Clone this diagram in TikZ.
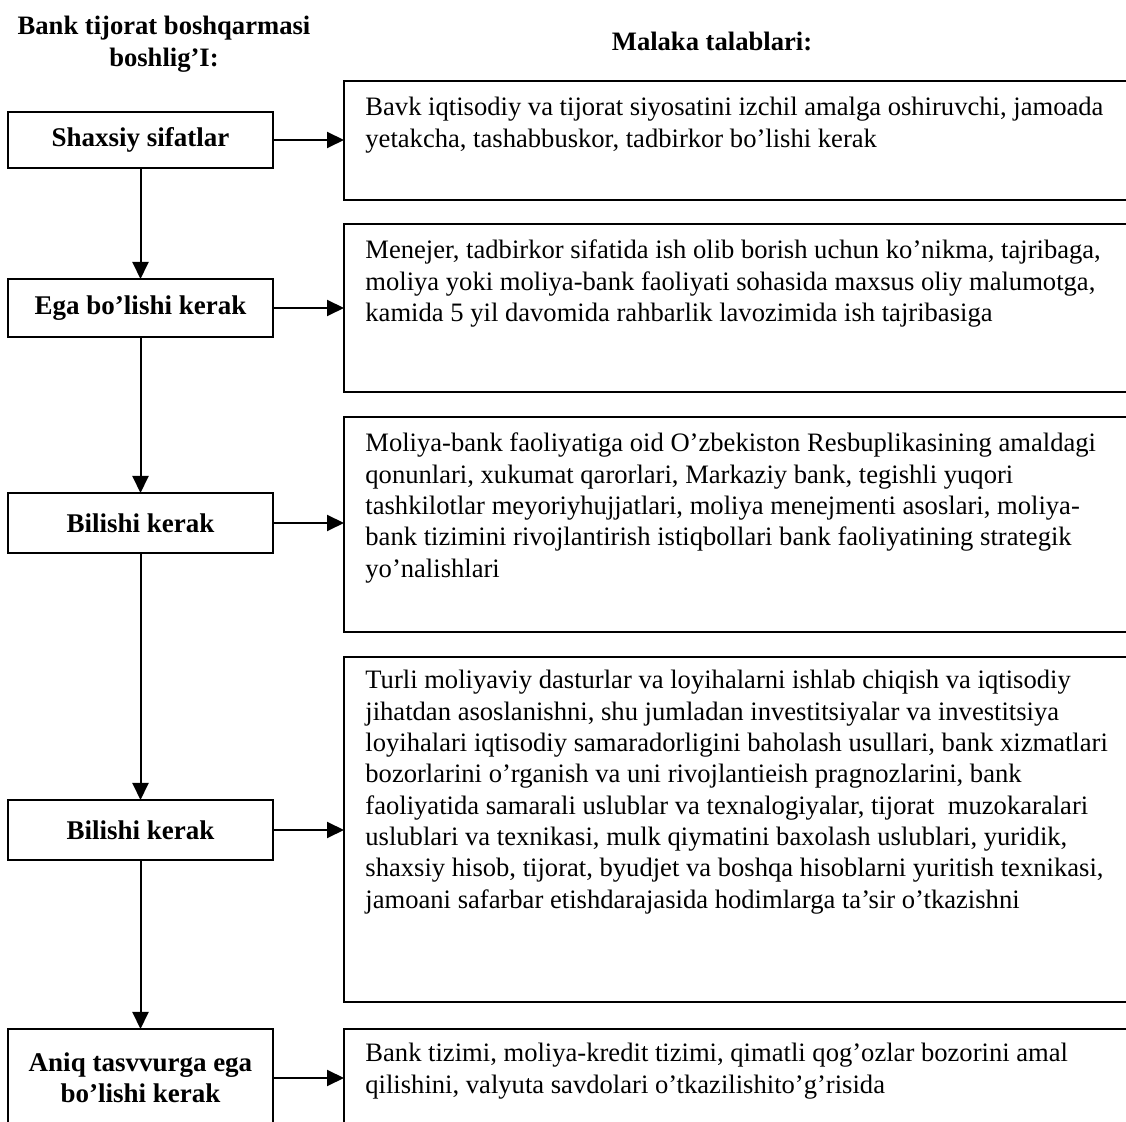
\documentclass[tikz,border=0pt]{standalone}
\usepackage{fontspec}
\setmainfont{Liberation Serif}
\usetikzlibrary{arrows.meta}
\begin{document}
\begin{tikzpicture}[x=0.5pt,y=-0.5pt,
  lbox/.style={draw,line width=1pt,minimum width=132.5pt,inner sep=0pt,outer sep=0pt,
    font=\bfseries\fontsize{13.5}{15.65}\selectfont,align=center},
  rbox/.style={draw,line width=0.75pt,minimum width=393pt,inner sep=0pt,outer sep=0pt},
  rtext/.style={anchor=base west,inner sep=0pt,font=\fontsize{13.3}{15.65}\selectfont},
  arr/.style={line width=1pt,-{Triangle[length=8.5pt,width=8pt]}},
  head/.style={anchor=base,inner sep=0pt,font=\bfseries\fontsize{13.3}{16}\selectfont}]
\useasboundingbox (0,0) rectangle (1126,1122);
\clip (0,0) rectangle (1126,1122);
\fill[white] (0,0) rectangle (1126,1122);

% headers
\node[head] (h1) at (164,35) {\begin{tabular}[t]{@{}c@{}}Bank tijorat boshqarmasi\\ boshlig’I:\end{tabular}};
\node[head] (h2) at (712,51) {Malaka talablari:};

% left boxes
\node[lbox,minimum height=28pt] (l1) at (140.5,140) {Shaxsiy sifatlar};
\node[lbox,minimum height=29pt] (l2) at (140.5,308) {Ega bo’lishi kerak};
\node[lbox,minimum height=30pt] (l3) at (140.5,523) {Bilishi kerak};
\node[lbox,minimum height=30pt] (l4) at (140.5,830) {Bilishi kerak};
\node[lbox,minimum height=49pt] (l5) at (140.5,1078) {Aniq tasvvurga ega\\ bo’lishi kerak};

% right boxes
\node[rbox,minimum height=59.5pt] (r1) at (737,140.5) {};
\node[rbox,minimum height=84pt] (r2) at (737,308) {};
\node[rbox,minimum height=107.5pt] (r3) at (737,524.5) {};
\node[rbox,minimum height=172.5pt] (r4) at (737,829.5) {};
\node[rbox,minimum height=49pt] (r5) at (737,1078) {};

% right texts
\node[rtext] (t1) at (365,116) {\parbox[t]{390pt}{\raggedright
Bavk iqtisodiy va tijorat siyosatini izchil amalga oshiruvchi, jamoada\\
yetakcha, tashabbuskor, tadbirkor bo’lishi kerak}};
\node[rtext] (t2) at (365,259) {\parbox[t]{390pt}{\raggedright
Menejer, tadbirkor sifatida ish olib borish uchun ko’nikma, tajribaga,\\
moliya yoki moliya-bank faoliyati sohasida maxsus oliy malumotga,\\
kamida 5 yil davomida rahbarlik lavozimida ish tajribasiga}};
\node[rtext] (t3) at (365,452) {\parbox[t]{390pt}{\raggedright
Moliya-bank faoliyatiga oid O’zbekiston Resbuplikasining amaldagi\\
qonunlari, xukumat qarorlari, Markaziy bank, tegishli yuqori\\
tashkilotlar meyoriyhujjatlari, moliya menejmenti asoslari, moliya-\\
bank tizimini rivojlantirish istiqbollari bank faoliyatining strategik\\
yo’nalishlari}};
\node[rtext] (t4) at (365,689) {\parbox[t]{390pt}{\raggedright
Turli moliyaviy dasturlar va loyihalarni ishlab chiqish va iqtisodiy\\
jihatdan asoslanishni, shu jumladan investitsiyalar va investitsiya\\
loyihalari iqtisodiy samaradorligini baholash usullari, bank xizmatlari\\
bozorlarini o’rganish va uni rivojlantieish pragnozlarini, bank\\
faoliyatida samarali uslublar va texnalogiyalar, tijorat~ muzokaralari\\
uslublari va texnikasi, mulk qiymatini baxolash uslublari, yuridik,\\
shaxsiy hisob, tijorat, byudjet va boshqa hisoblarni yuritish texnikasi,\\
jamoani safarbar etishdarajasida hodimlarga ta’sir o’tkazishni}};
\node[rtext] (t5) at (365,1062) {\parbox[t]{390pt}{\raggedright
Bank tizimi, moliya-kredit tizimi, qimatli qog’ozlar bozorini amal\\
qilishini, valyuta savdolari o’tkazilishito’g’risida}};

% vertical arrows
\draw[arr] (l1.south) -- (l2.north);
\draw[arr] (l2.south) -- (l3.north);
\draw[arr] (l3.south) -- (l4.north);
\draw[arr] (l4.south) -- (l5.north);

% horizontal arrows
\draw[arr] (l1.east) -- (r1.west |- l1.east);
\draw[arr] (l2.east) -- (r2.west |- l2.east);
\draw[arr] (l3.east) -- (r3.west |- l3.east);
\draw[arr] (l4.east) -- (r4.west |- l4.east);
\draw[arr] (l5.east) -- (r5.west |- l5.east);
\end{tikzpicture}
\end{document}
